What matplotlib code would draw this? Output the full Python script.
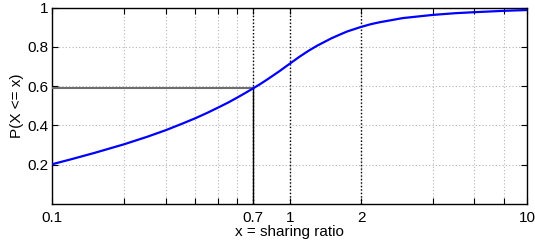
#!/usr/bin/env python3

import matplotlib
matplotlib.use("Agg")
import matplotlib.pyplot as plt
from matplotlib.ticker import FixedLocator, FixedFormatter, NullLocator

# valores (CDF da razao de compartilhamento)
razao = [0.1, 0.12, 0.15, 0.2, 0.25, 0.3, 0.35, 0.4, 0.45, 0.5, 0.55, 0.6,
         0.65, 0.7, 0.75, 0.8, 0.9, 1.0, 1.1, 1.2, 1.3, 1.5, 1.65, 1.75, 2.0,
         2.2, 2.4, 2.7, 3.0, 4.0, 5.0, 6.0, 8.0, 10.0]
prob = [0.202, 0.227, 0.259, 0.303, 0.341, 0.375, 0.407, 0.436, 0.464, 0.491,
        0.516, 0.541, 0.565, 0.588, 0.610, 0.632, 0.674, 0.714, 0.750, 0.780,
        0.805, 0.844, 0.866, 0.879, 0.902, 0.916, 0.926, 0.937, 0.947, 0.963,
        0.972, 0.977, 0.984, 0.988]

ticks_x = [0.1, 0.2, 0.3, 0.4, 0.5, 0.6, 0.7, 1, 2, 4, 6, 8, 10]
rotulos_x = ["0.1", "", "", "", "", "", "0.7", "1", "2", "", "", "", "10"]
ticks_y = [0.2, 0.4, 0.6, 0.8, 1.0]
rotulos_y = ["0.2", "0.4", "0.6", "0.8", "1"]

linhas_destaque = [0.7, 1, 2]
ponto_x = 0.7
ponto_y = 0.59


def gerar_grafico(caminho_saida):
    plt.rcParams["font.family"] = ["Liberation Sans", "DejaVu Sans"]
    fig = plt.figure(figsize=(5.35, 2.40), dpi=100)
    ax = fig.add_axes([0.098, 0.151, 0.887, 0.817])

    ax.set_xscale("log")
    ax.set_xlim(0.1, 10)
    ax.set_ylim(0, 1)

    ax.xaxis.set_major_locator(FixedLocator(ticks_x))
    ax.xaxis.set_major_formatter(FixedFormatter(rotulos_x))
    ax.xaxis.set_minor_locator(NullLocator())
    ax.yaxis.set_major_locator(FixedLocator(ticks_y))
    ax.yaxis.set_major_formatter(FixedFormatter(rotulos_y))

    ax.grid(True, color="#b4b4b4", linestyle=(0, (1, 2)), linewidth=0.8)

    for x in linhas_destaque:
        ax.axvline(x, color="black", linestyle=(0, (1, 1.5)), linewidth=1.0, zorder=2)

    ax.plot([0.1, ponto_x], [ponto_y, ponto_y], color="#6e6e6e", linewidth=1.5, zorder=3)
    ax.plot([ponto_x, ponto_x], [0, ponto_y], color="black", linewidth=1.0, zorder=3)

    ax.plot(razao, prob, color="#0000ff", linewidth=1.6, zorder=4)

    ax.tick_params(direction="in", length=4, width=0.8, top=True, right=True,
                   labelsize=11)
    ax.tick_params(axis="x", pad=5)
    ax.tick_params(axis="y", pad=3)
    for lado in ax.spines.values():
        lado.set_linewidth(1.0)

    ax.set_xlabel("x = sharing ratio", fontsize=11, labelpad=0)
    ax.set_ylabel("P(X <= x)", fontsize=11, labelpad=2)

    fig.savefig(caminho_saida, dpi=100)
    print("Grafico salvo em %s" % caminho_saida)


def main():
    gerar_grafico("out.png")


if __name__ == "__main__":
    main()
